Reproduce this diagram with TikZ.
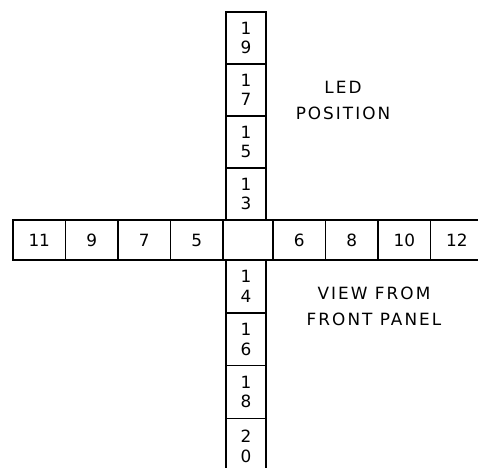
\documentclass[tikz,border=0pt]{standalone}
\usepackage{fontspec}
\setmainfont{DejaVu Sans}
\usetikzlibrary{positioning}

\begin{document}
\begin{tikzpicture}[
        hcell/.style={rectangle, draw=black, line width=1.2pt, outer sep=0pt, inner sep=0pt, minimum width=1.3125cm, minimum height=1cm, font=\fontsize{12}{14}\selectfont},
        vcell/.style={rectangle, draw=black, line width=1.2pt, outer sep=0pt, inner sep=0pt, minimum width=1cm, minimum height=1.3cm, align=center, font=\fontsize{12}{14}\selectfont},
        midcell/.style={rectangle, draw=black, line width=1.2pt, outer sep=0pt, inner sep=0pt, minimum width=1.25cm, minimum height=1cm},
        remark/.style={align=center, font=\fontsize{12}{18.5}\selectfont\addfontfeature{LetterSpace=12}}
    ]

    \useasboundingbox (0,0) rectangle (11.95,11.7);
    \clip (0,0) rectangle (11.95,11.7);

    % Centre of the cross
    \node[midcell] (mid) at (6.2, 5.7) {};

    % Left arm
    \node[hcell, left=0pt of mid] (n5) {5};
    \node[hcell, left=0pt of n5] (n7) {7};
    \node[hcell, left=0pt of n7] (n9) {9};
    \node[hcell, left=0pt of n9] (n11) {11};

    % Right arm
    \node[hcell, right=0pt of mid] (n6) {6};
    \node[hcell, right=0pt of n6] (n8) {8};
    \node[hcell, right=0pt of n8] (n10) {10};
    \node[hcell, right=0pt of n10] (n12) {12};

    % Upper arm
    \node[vcell, anchor=south] (n13) at (6.15, 6.2) {1\\3};
    \node[vcell, above=0pt of n13] (n15) {1\\5};
    \node[vcell, above=0pt of n15] (n17) {1\\7};
    \node[vcell, above=0pt of n17] (n19) {1\\9};

    % Lower arm (runs off the bottom edge)
    \node[vcell, minimum height=1.32cm, anchor=north] (n14) at (6.15, 5.2) {1\\4};
    \node[vcell, minimum height=1.32cm, below=0pt of n14] (n16) {1\\6};
    \node[vcell, minimum height=1.32cm, below=0pt of n16] (n18) {1\\8};
    \node[vcell, minimum height=1.4cm, below=0pt of n18] (n20) {2\\0};

    % Notes
    \node[remark] (ledpos) at (8.575, 9.2) {LED\\POSITION};
    \node[remark] (viewfront) at (9.35, 4.04) {VIEW FROM\\FRONT PANEL};

\end{tikzpicture}
\end{document}
